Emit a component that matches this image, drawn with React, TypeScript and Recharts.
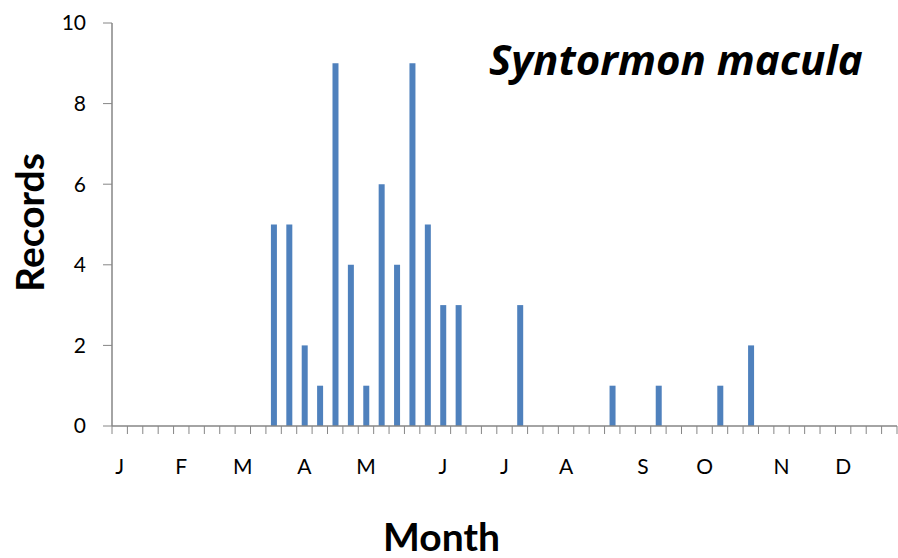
import React from "react";
import { BarChart, Bar, XAxis, YAxis } from "recharts";

// weekly records, 51 week slots across the year
const weekRecords = [
  0, 0, 0, 0, 0, 0, 0, 0, 0, 0,
  5, 5, 2, 1, 9, 4, 1, 6, 4, 9,
  5, 3, 3, 0, 0, 0, 3, 0, 0, 0,
  0, 0, 1, 0, 0, 1, 0, 0, 0, 1,
  0, 2, 0, 0, 0, 0, 0, 0, 0, 0,
  0,
];
const monthLabels = ["J", "F", "M", "A", "M", "J", "J", "A", "S", "O", "N", "D"];
const monthStartWeek = [0, 4, 8, 12, 16, 21, 25, 29, 34, 38, 43, 47];
const yTicks = [0, 2, 4, 6, 8, 10];

const nWeeks = weekRecords.length;
const weekTicks = Array.from({ length: nWeeks + 1 }, (_, i) => i);
const monthTicks = monthStartWeek.map((w) => w + 0.5);

const data = weekRecords.map((v, i) => ({ week: i + 0.5, records: v }));

const axisGrey = "#868686";
const font = "Lato, 'Open Sans', sans-serif";

const App: React.FC = () => {
  return (
    <div
      style={{
        position: "absolute",
        left: 0,
        top: 0,
        width: 898,
        height: 558,
        background: "#fff",
        fontFamily: font,
      }}
    >
      <BarChart
        width={898}
        height={558}
        data={data}
        margin={{ top: 23, right: 1, left: 0, bottom: 0 }}
      >
        <XAxis
          xAxisId="b"
          dataKey="week"
          type="number"
          domain={[0, nWeeks]}
          ticks={monthTicks}
          interval={0}
          tickFormatter={(_v: number, i: number) => monthLabels[i]}
          height={123}
          tickSize={0}
          tickMargin={24}
          tickLine={false}
          axisLine={false}
          tick={{ fill: "#000", fontSize: 21, fontFamily: font }}
          label={{
            value: "Month",
            position: "center",
            dx: -63,
            dy: 41,
            fill: "#000",
            fontSize: 39,
            fontWeight: 700,
            fontFamily: font,
          }}
        />
        <XAxis
          xAxisId="a"
          dataKey="week"
          type="number"
          domain={[0, nWeeks]}
          ticks={weekTicks}
          interval={0}
          tickFormatter={() => ""}
          height={9}
          tickSize={8}
          stroke={axisGrey}
          tickLine={{ stroke: axisGrey }}
          axisLine={{ stroke: axisGrey, strokeWidth: 1.5 }}
        />
        <YAxis
          domain={[0, 10]}
          ticks={yTicks}
          interval={0}
          width={112}
          tickSize={9}
          tickMargin={17}
          stroke={axisGrey}
          axisLine={{ stroke: axisGrey, strokeWidth: 1.5 }}
          tickLine={{ stroke: axisGrey }}
          tick={{ fill: "#000", fontSize: 21, fontFamily: font }}
          label={{
            value: "Records",
            angle: -90,
            position: "center",
            dx: -26,
            dy: -2,
            fill: "#000",
            fontSize: 39,
            fontWeight: 700,
            fontFamily: font,
          }}
        />
        <Bar
          xAxisId="a"
          dataKey="records"
          fill="#4F81BD"
          barSize={6}
          isAnimationActive={false}
        />
      </BarChart>
      <div
        style={{
          position: "absolute",
          left: 489,
          top: 38,
          lineHeight: 1,
          fontSize: 42,
          fontWeight: 700,
          fontStyle: "italic",
          fontFamily: "'Open Sans', sans-serif",
          whiteSpace: "nowrap",
          color: "#000",
        }}
      >
        Syntormon macula
      </div>
    </div>
  );
};

export default App;
